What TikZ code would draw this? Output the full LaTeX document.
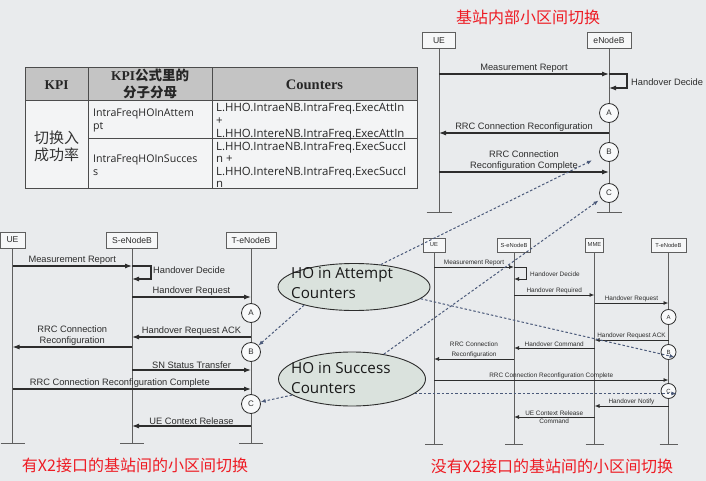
\documentclass[tikz,border=0pt]{standalone}
\usepackage{fontspec}
\setmainfont{Liberation Sans}
\newfontfamily\cjk{Noto Sans CJK SC}
\newfontfamily\osans{Open Sans}
\newfontfamily\tserif{Liberation Serif}
\usetikzlibrary{arrows.meta,shapes.geometric}

\definecolor{bgcol}{RGB}{233,235,237}
\definecolor{linecol}{RGB}{45,45,45}
\definecolor{lifecol}{RGB}{95,95,95}
\definecolor{dashcol}{RGB}{75,90,122}
\definecolor{hdrcol}{RGB}{196,196,196}
\definecolor{ellcol}{RGB}{218,226,221}
\definecolor{titcol}{RGB}{238,28,36}

\tikzset{
  lifehead/.style={draw=lifecol,fill=white!60!bgcol,inner sep=0pt,minimum height=16pt,font=\fontsize{8.6}{9}\selectfont,text=linecol},
  slifehead/.style={lifehead,minimum height=14pt,font=\fontsize{5.8}{6}\selectfont},
  life/.style={draw=lifecol,line width=1pt},
  msg/.style={draw=linecol,line width=1.1pt,-{Latex[length=7pt,width=5pt]}},
  smsg/.style={msg,line width=.9pt,-{Latex[length=5pt,width=4pt]}},
  lbl/.style={above,inner sep=1pt,font=\fontsize{9.3}{10.8}\selectfont,text=linecol,align=center},
  slbl/.style={lbl,font=\fontsize{6.4}{9.5}\selectfont},
  hocirc/.style={circle,draw=linecol,fill=white!70!bgcol,line width=.8pt,minimum size=19pt,inner sep=0pt,font=\fontsize{8}{8}\selectfont,text=linecol},
  shocirc/.style={hocirc,minimum size=15pt,font=\fontsize{6}{6}\selectfont},
  hoell/.style={ellipse,draw=linecol,fill=ellcol,line width=.9pt,inner sep=0pt},
  hotxt/.style={anchor=west,align=left,inner sep=0pt,font=\osans\fontsize{15.2}{20}\selectfont,text=black!90},
  link/.style={draw=dashcol,line width=1pt,dash pattern=on 2.5pt off 2pt,-{Latex[length=5pt,width=4pt]}},
  tabline/.style={draw=black!70,line width=1pt},
  tabtxt/.style={anchor=north west,align=left,inner sep=0pt,font=\osans\fontsize{10.6}{13}\selectfont,text=black!85},
  redtitle/.style={text=titcol,font=\cjk\fontsize{16}{16}\selectfont},
}

\begin{document}
\begin{tikzpicture}[x=1pt,y=-1pt]
        % Background
        \fill[bgcol] (0,0) rectangle (706,481);
        \useasboundingbox (0,0) rectangle (706,481);

        % KPI table
        \fill[hdrcol] (25,68) rectangle (417,101);
        \fill[white!45!bgcol] (25,101) rectangle (417,188);
        \draw[tabline] (25,68) rectangle (417,188);
        \draw[tabline] (88,68) -- (88,188) (212,68) -- (212,188) (25,101) -- (417,101) (88,139) -- (417,139);
        \node[font=\tserif\bfseries\fontsize{13.5}{14}\selectfont,text=black!85] (kpiH) at (56.5,85) {KPI};
        \node[font=\fontsize{13.5}{14}\selectfont,text=black!85] (fracH) at (150,75) {{\tserif\bfseries KPI}{\cjk\bfseries 公式里的}};
        \node[font=\cjk\bfseries\fontsize{13.5}{14}\selectfont,text=black!85] (fracH2) at (150,92) {分子分母};
        \node[font=\tserif\bfseries\fontsize{14.5}{15}\selectfont,text=black!85] (cntH) at (314.5,85) {Counters};
        \node[align=center,font=\cjk\fontsize{15}{17}\selectfont,text=black!80] (kpiN) at (56.5,146) {切换入\\成功率};
        \node[tabtxt] (attN) at (93,109) {IntraFreqHOInAttem\\pt};
        \node[tabtxt] (sucN) at (93,155) {IntraFreqHOInSucces\\s};
        \node[tabtxt,font=\osans\fontsize{11.4}{13}\selectfont] (attC) at (216,103) {L.HHO.IntraeNB.IntraFreq.ExecAttIn\\+\\L.HHO.IntereNB.IntraFreq.ExecAttIn};
        \node[tabtxt,font=\osans\fontsize{11.4}{12.4}\selectfont] (sucC) at (216,142) {L.HHO.IntraeNB.IntraFreq.ExecSuccI\\n +\\L.HHO.IntereNB.IntraFreq.ExecSuccI\\n};

        % Intra eNB handover
        \node[redtitle] (tTitle) at (528,17) {基站内部小区间切换};
        \foreach \nm/\x/\w/\lab in {tUE/439/33/UE,tENB/609/44/eNodeB}{
          \node[lifehead,minimum width=\w pt] (\nm) at (\x,40.5) {\lab};
          \draw[life] (\nm) -- (\x,212) coordinate (\nm-end);
          \draw[life] ([xshift=-12.5pt]\nm-end) -- ([xshift=12.5pt]\nm-end);
        }
        \draw[msg] (tUE |- 0,74) -- (tENB |- 0,74) node[lbl,midway] {Measurement Report};
        \draw[msg] (tENB |- 0,74) -- ++(18,0) -- ++(0,14) -- (tENB |- 0,88);
        \node[lbl,anchor=west] (tHD) at (630,82) {Handover Decide};
        \node[hocirc] (tA) at (tENB |- 0,113) {A};
        \draw[msg] (tENB |- 0,133) -- (tUE |- 0,133) node[lbl,midway] {RRC Connection Reconfiguration};
        \node[hocirc] (tB) at (tENB |- 0,152) {B};
        \draw[msg] (tUE |- 0,172) -- (tENB |- 0,172) node[lbl,midway] {RRC Connection\\Reconfiguration Complete};
        \node[hocirc] (tC) at (tENB |- 0,193) {C};

        % Inter eNB handover with X2
        \node[redtitle] (lTitle) at (135,465) {有X2接口的基站间的小区间切换};
        \foreach \nm/\x/\w/\lab in {lUE/12.5/25/UE,lS/132/51/S-eNodeB,lT/251/50/T-eNodeB}{
          \node[lifehead,minimum width=\w pt] (\nm) at (\x,240) {\lab};
          \draw[life] (\nm) -- (\x,443) coordinate (\nm-end);
          \draw[life] ([xshift=-12pt]\nm-end) -- ([xshift=12pt]\nm-end);
        }
        \draw[msg] (lUE |- 0,266) -- (lS |- 0,266) node[lbl,midway] {Measurement Report};
        \draw[msg] (lS |- 0,266) -- ++(19,0) -- ++(0,13) -- (lS |- 0,279);
        \node[lbl,anchor=west] (lHD) at (152,270) {Handover Decide};
        \draw[msg] (lS |- 0,297) -- (lT |- 0,297) node[lbl,midway] {Handover Request};
        \node[hocirc] (lA) at (lT |- 0,313) {A};
        \draw[msg] (lT |- 0,337) -- (lS |- 0,337) node[lbl,midway] {Handover Request ACK};
        \draw[msg] (lS |- 0,347) -- (lUE |- 0,347) node[lbl,midway] {RRC Connection\\Reconfiguration};
        \node[hocirc] (lB) at (lT |- 0,352) {B};
        \draw[msg] (lS |- 0,370) -- (lT |- 0,370) node[lbl,midway] {SN Status Transfer};
        \draw[msg] (lUE |- 0,389) -- (lT |- 0,389) node[lbl,pos=0.45] {RRC Connection Reconfiguration Complete};
        \node[hocirc] (lC) at (lT |- 0,404) {C};
        \draw[msg] (lT |- 0,426) -- (lS |- 0,426) node[lbl,midway] {UE Context Release};

        % Inter eNB handover without X2
        \node[redtitle] (rTitle) at (552,466) {没有X2接口的基站间的小区间切换};
        \foreach \nm/\x/\w/\lab in {rUE/434/22/UE,rS/514/33/S-eNodeB,rM/594.5/18/MME,rT/668.5/35/T-eNodeB}{
          \node[slifehead,minimum width=\w pt] (\nm) at (\x,245) {\lab};
          \draw[life,line width=.9pt] (\nm) -- (\x,444) coordinate (\nm-end);
          \draw[life,line width=.9pt] ([xshift=-9pt]\nm-end) -- ([xshift=9pt]\nm-end);
        }
        \draw[smsg] (rUE |- 0,267) -- (rS |- 0,267) node[slbl,midway] {Measurement Report};
        \draw[smsg] (rS |- 0,267) -- ++(12,0) -- ++(0,12) -- (rS |- 0,279);
        \node[slbl,anchor=west] (rHD) at (529,274) {Handover Decide};
        \draw[smsg] (rS |- 0,295) -- (rM |- 0,295) node[slbl,midway] {Handover Required};
        \draw[smsg] (rM |- 0,303) -- (rT |- 0,303) node[slbl,midway] {Handover Request};
        \node[shocirc] (rA) at (rT |- 0,317) {A};
        \draw[smsg] (rT |- 0,340) -- (rM |- 0,340) node[slbl,midway] {Handover Request ACK};
        \draw[smsg] (rM |- 0,348) -- (rS |- 0,348) node[slbl,midway] {Handover Command};
        \node[shocirc] (rB) at (rT |- 0,352) {B};
        \draw[smsg] (rS |- 0,359) -- (rUE |- 0,359) node[slbl,midway] {RRC Connection\\Reconfiguration};
        \draw[smsg] (rUE |- 0,380) -- (rT |- 0,380) node[slbl,midway] {RRC Connection Reconfiguration Complete};
        \node[shocirc] (rC) at (rT |- 0,391) {C};
        \draw[smsg] (rT |- 0,406) -- (rM |- 0,406) node[slbl,midway] {Handover Notify};
        \draw[smsg] (rM |- 0,417) -- (rS |- 0,417) node[slbl,midway] {UE Context Release} node[slbl,midway,below] {Command};

        % Counter groups
        \node[hoell,minimum width=152pt,minimum height=47pt] (att) at (354,287) {};
        \node[hotxt] (attT) at (291,283) {HO in Attempt\\Counters};
        \node[hoell,minimum width=147pt,minimum height=54pt] (suc) at (352,379) {};
        \node[hotxt] (sucT) at (291,378) {HO in Success\\Counters};

        % Dashed links
        \draw[link] (att.200) -- (lB);
        \draw[link,shorten >=9pt] (att.40) -- (tB);
        \draw[link] (att.-10) -- (rB.-40);
        \draw[link] (suc.195) -- (lC);
        \draw[link,shorten >=3pt] (suc.38) -- (tC);
        \draw[link] (suc.-13) -- (suc.-13 -| rC.east);
\end{tikzpicture}
\end{document}
